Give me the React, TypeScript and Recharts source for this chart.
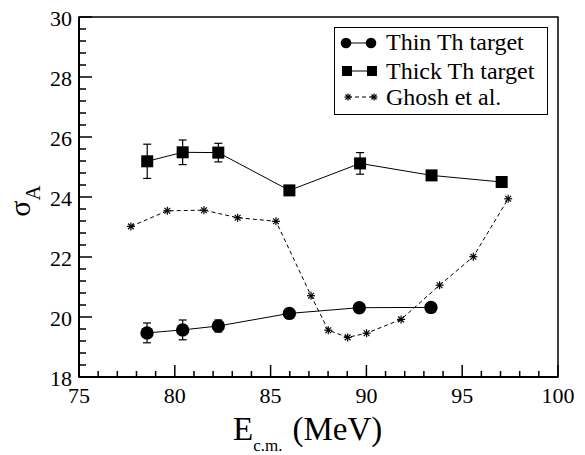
import React from 'react';
import { ComposedChart, Line, XAxis, YAxis, ErrorBar, ReferenceArea, Legend } from 'recharts';

// ---- data ----
const thinE = [78.55, 80.41, 82.27, 85.98, 89.63, 93.37];
const thinSigma = [19.47, 19.57, 19.7, 20.12, 20.31, 20.32];
const thinErr = [0.33, 0.33, 0.2, 0.1, 0.1, 0.1];

const thickE = [78.56, 80.41, 82.27, 85.98, 89.67, 93.4, 97.06];
const thickSigma = [25.19, 25.49, 25.48, 24.22, 25.12, 24.72, 24.5];
const thickErr = [0.57, 0.41, 0.31, 0.1, 0.36, 0.1, 0.1];

const ghoshE = [77.71, 79.61, 81.52, 83.28, 85.28, 87.11, 88.01, 89.02, 90.01, 91.81, 93.82, 95.58, 97.4];
const ghoshSigma = [23.02, 23.54, 23.56, 23.31, 23.19, 20.71, 19.56, 19.32, 19.46, 19.92, 21.06, 22.01, 23.94];

const xTicks = [75, 76, 77, 78, 79, 80, 81, 82, 83, 84, 85, 86, 87, 88, 89, 90, 91, 92, 93, 94, 95, 96, 97, 98, 99, 100];
const xMajor = [75, 80, 85, 90, 95, 100];
const yTicks = [
  18, 18.4, 18.8, 19.2, 19.6, 20, 20.4, 20.8, 21.2, 21.6, 22, 22.4, 22.8, 23.2, 23.6, 24,
  24.4, 24.8, 25.2, 25.6, 26, 26.4, 26.8, 27.2, 27.6, 28, 28.4, 28.8, 29.2, 29.6, 30,
];
const yMajor = [18, 20, 22, 24, 26, 28, 30];

const seriesNames = ['Thin Th target', 'Thick Th target', 'Ghosh et al.'];

const thinData = thinE.map((x, i) => ({ x, y: thinSigma[i], err: thinErr[i] }));
const thickData = thickE.map((x, i) => ({ x, y: thickSigma[i], err: thickErr[i] }));
const ghoshData = ghoshE.map((x, i) => ({ x, y: ghoshSigma[i] }));

const FAM = 'Liberation Serif';
const CSS = `.serifchart text, .serifchart tspan { font-family: 'Liberation Serif', 'Times New Roman', serif !important; }`;

const Star = ({ cx, cy, s = 4 }: { cx: number; cy: number; s?: number }) => {
  const d = s * 0.72;
  return (
    <g stroke="#000" strokeWidth={1.2}>
      <line x1={cx - s} y1={cy} x2={cx + s} y2={cy} />
      <line x1={cx} y1={cy - s} x2={cx} y2={cy + s} />
      <line x1={cx - d} y1={cy - d} x2={cx + d} y2={cy + d} />
      <line x1={cx - d} y1={cy + d} x2={cx + d} y2={cy - d} />
    </g>
  );
};

const XTick = (props: any) => {
  const { x, y, payload } = props;
  const v = payload.value;
  const major = xMajor.includes(v);
  return (
    <g>
      <line x1={x} x2={x} y1={y} y2={y - (major ? 12 : 6)} stroke="#000" strokeWidth={1.5} />
      {major && (
        <text x={x} y={y + 26} textAnchor="middle" fontFamily={FAM} fontSize={22} fill="#000">
          {String(v)}
        </text>
      )}
    </g>
  );
};

const YTick = (props: any) => {
  const { x, y, payload } = props;
  const v = payload.value;
  const major = yMajor.includes(v);
  return (
    <g>
      <line x1={x} x2={x + (major ? 13 : 7)} y1={y} y2={y} stroke="#000" strokeWidth={1.5} />
      {major && (
        <text x={x - 7} y={y + 9} textAnchor="end" fontFamily={FAM} fontSize={22} fill="#000">
          {String(v)}
        </text>
      )}
    </g>
  );
};

const LegendBox = () => (
  <svg width={214} height={88} style={{ display: 'block' }}>
    <rect x={0.5} y={0.5} width={213} height={87} fill="#fff" stroke="#000" strokeWidth={1} />
    <line x1={12} x2={37} y1={16} y2={16} stroke="#000" strokeWidth={1} />
    <circle cx={12} cy={16} r={5.3} fill="#000" />
    <circle cx={37} cy={16} r={5.3} fill="#000" />
    <text x={52} y={23} fontFamily={FAM} fontSize={24} fill="#000">{seriesNames[0]}</text>
    <line x1={13} x2={38} y1={44} y2={44} stroke="#000" strokeWidth={1} />
    <rect x={8} y={39} width={10} height={10} fill="#000" />
    <rect x={33} y={39} width={10} height={10} fill="#000" />
    <text x={52} y={52} fontFamily={FAM} fontSize={24} fill="#000">{seriesNames[1]}</text>
    <line x1={14} x2={40} y1={70} y2={70} stroke="#000" strokeWidth={1} strokeDasharray="4 3" />
    <Star cx={14} cy={70} s={3.5} />
    <Star cx={40} cy={70} s={3.5} />
    <text x={52} y={78} fontFamily={FAM} fontSize={24} fill="#000">{seriesNames[2]}</text>
  </svg>
);

const YLabel = () => (
  <text transform="translate(30,201) rotate(-90)" textAnchor="middle" fontFamily={FAM} fill="#000">
    <tspan fontSize={30}>σ</tspan>
    <tspan fontSize={21} dy={10}>A</tspan>
  </text>
);

const XLabel = () => (
  <text x={233} y={440} fontFamily={FAM} fill="#000">
    <tspan fontSize={33}>E</tspan>
    <tspan fontSize={17} dy={11}>c.m.</tspan>
    <tspan fontSize={33} dy={-11} dx={10}>(MeV)</tspan>
  </text>
);

export default function App() {
  return (
    <div
      className="serifchart"
      style={{ position: 'absolute', left: 0, top: 0, width: 585, height: 455, background: '#fff', fontFamily: FAM }}
    >
      <style>{CSS}</style>
      <ComposedChart width={585} height={455} margin={{ top: 17, right: 27, bottom: 0, left: 0 }}>
        <XAxis
          type="number"
          dataKey="x"
          domain={[75, 100]}
          ticks={xTicks}
          interval={0}
          allowDataOverflow
          height={78}
          tickSize={0}
          tickMargin={0}
          tickLine={false}
          tick={(p: any) => <XTick key={`xt${p.index}`} {...p} />}
          axisLine={{ stroke: '#000', strokeWidth: 2 }}
          label={{ content: () => <XLabel /> }}
        />
        <YAxis
          type="number"
          domain={[18, 30]}
          ticks={yTicks}
          interval={0}
          allowDataOverflow
          width={79}
          tickSize={0}
          tickMargin={0}
          tickLine={false}
          tick={(p: any) => <YTick key={`yt${p.index}`} {...p} />}
          axisLine={{ stroke: '#000', strokeWidth: 2 }}
          label={{ content: () => <YLabel /> }}
        />
        <ReferenceArea x1={75} x2={100} y1={18} y2={30} fill="none" stroke="#000" strokeWidth={1.5} />
        <Line
          data={ghoshData}
          dataKey="y"
          name={seriesNames[2]}
          stroke="#000"
          strokeWidth={1}
          strokeDasharray="4 3"
          isAnimationActive={false}
          activeDot={false}
          dot={(p: any) => <Star key={`g${p.index}`} cx={p.cx} cy={p.cy} s={4} />}
        />
        <Line
          data={thinData}
          dataKey="y"
          name={seriesNames[0]}
          stroke="#000"
          strokeWidth={1}
          isAnimationActive={false}
          activeDot={false}
          dot={(p: any) => <circle key={`t${p.index}`} cx={p.cx} cy={p.cy} r={6.7} fill="#000" />}
        >
          <ErrorBar dataKey="err" direction="y" width={4} stroke="#000" strokeWidth={1.2} />
        </Line>
        <Line
          data={thickData}
          dataKey="y"
          name={seriesNames[1]}
          stroke="#000"
          strokeWidth={1}
          isAnimationActive={false}
          activeDot={false}
          dot={(p: any) => (
            <rect key={`k${p.index}`} x={p.cx - 6} y={p.cy - 6} width={12} height={12} fill="#000" />
          )}
        >
          <ErrorBar dataKey="err" direction="y" width={4} stroke="#000" strokeWidth={1.2} />
        </Line>
        <Legend
          layout="vertical"
          align="center"
          verticalAlign="middle"
          wrapperStyle={{ left: 334, top: 27, width: 214, height: 88, right: 'auto', bottom: 'auto' }}
          content={() => <LegendBox />}
        />
      </ComposedChart>
    </div>
  );
}
